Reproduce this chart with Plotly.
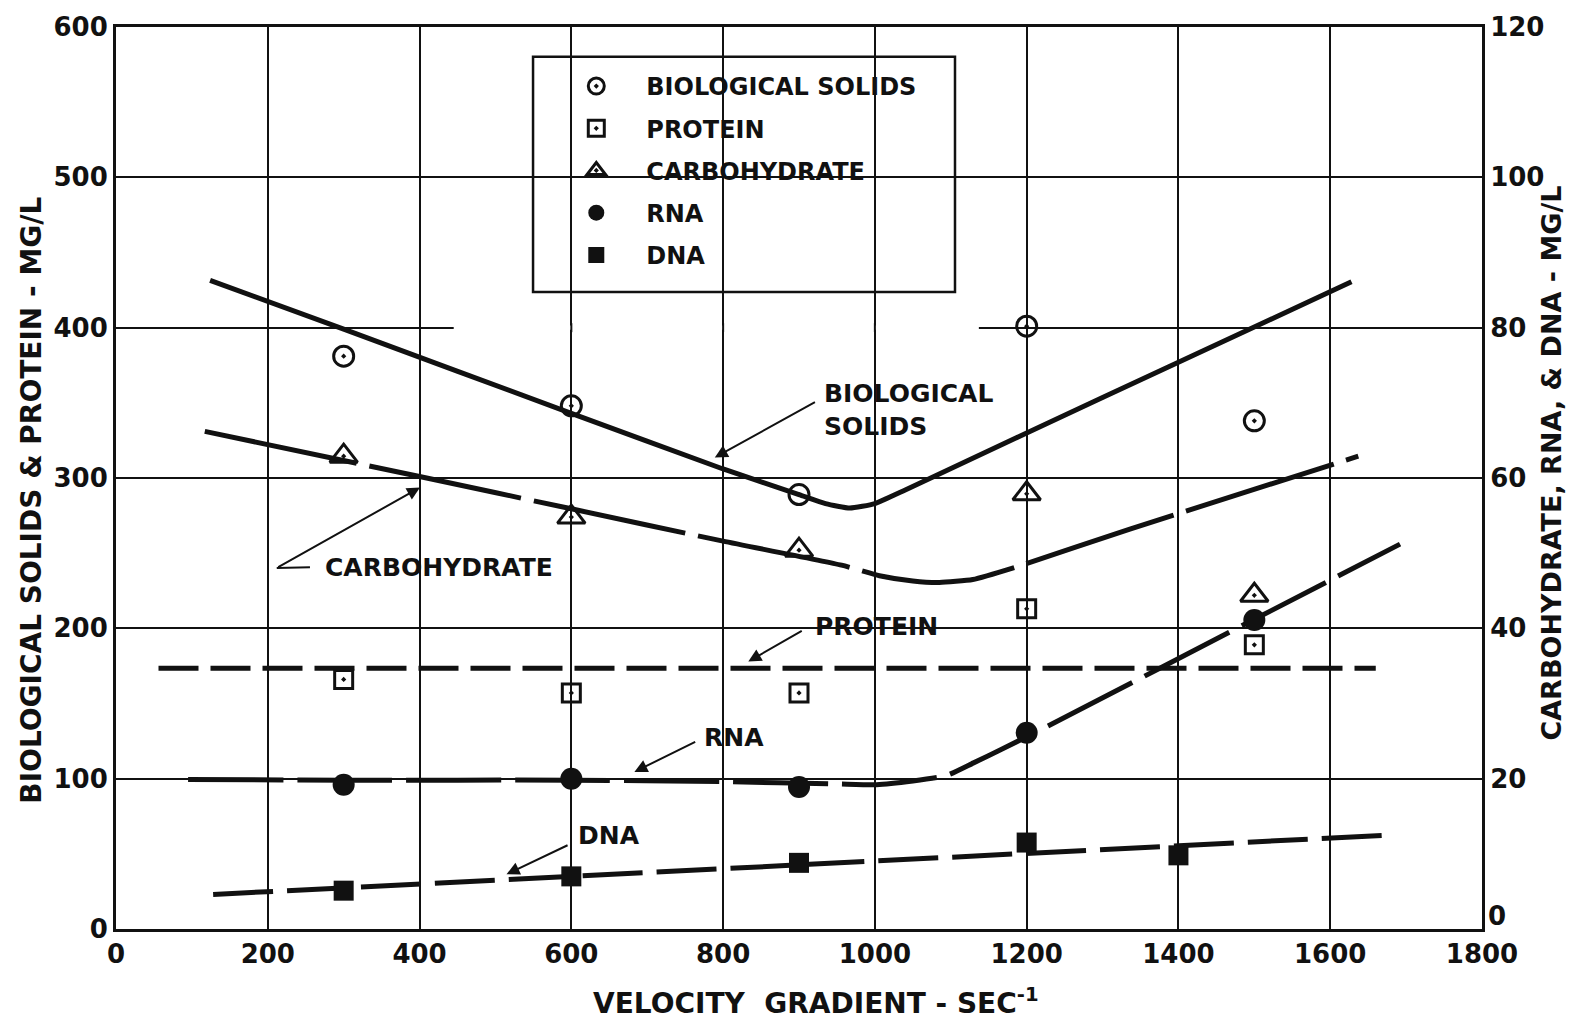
import plotly.graph_objects as go

# ---- measured points -------------------------------------------------------
velocity = [300, 600, 900, 1200, 1500]
bio_solids = [381, 348, 289, 401, 338]          # mg/L, left axis
protein = [166, 157, 157, 213, 189]             # mg/L, left axis
carbohydrate = [62.9, 54.8, 50.4, 57.9, 44.4]   # mg/L, right axis
rna = [19.2, 20.0, 18.9, 26.1, 41.1]            # mg/L, right axis
dna_velocity = [300, 600, 900, 1200, 1400]
dna = [5.1, 7.0, 8.8, 11.5, 9.8]                # mg/L, right axis

# ---- hand-fitted trend curves ----------------------------------------------
bs_fit_x = [124, 300, 600, 800, 900, 935, 967, 1000, 1040, 1200, 1400, 1628]
bs_fit_y = [431.5, 399, 343, 306, 289, 283, 280, 283, 292, 330, 377, 430.5]

carb_fit_x = [117, 400, 600, 800, 956, 1006, 1050, 1085, 1129, 1184, 1336, 1637]
carb_fit_y = [66.2, 60.2, 55.9, 51.6, 48.4, 47.0, 46.3, 46.1, 46.5, 48.1, 53.2, 62.9]

protein_fit_x = [56, 1660]
protein_fit_y = [173.5, 173.5]

rna_fit_x = [95, 300, 600, 800, 950, 1002, 1050, 1094, 1130, 1167, 1253, 1500, 1692]
rna_fit_y = [19.9, 19.8, 19.8, 19.6, 19.3, 19.2, 19.7, 20.4, 22.1, 23.9, 28.3, 41.2, 51.2]

dna_fit_x = [128, 1679]
dna_fit_y = [4.6, 12.5]

# ---- axis ticks ------------------------------------------------------------
x_ticks = [0, 200, 400, 600, 800, 1000, 1200, 1400, 1600, 1800]
left_ticks = [0, 100, 200, 300, 400, 500, 600]
right_ticks = [20, 40, 60, 80, 100, 120]   # the right-hand 0 is set a little higher

FONT = "DejaVu Sans"
INK = "#111111"


def bold(size):
    return dict(family=FONT, size=size, color=INK, weight="bold")


fig = go.Figure()

# trend curves (no legend entries)
curve_style = dict(mode="lines", showlegend=False, hoverinfo="skip")
fig.add_trace(go.Scatter(x=bs_fit_x, y=bs_fit_y, yaxis="y",
                         line=dict(color=INK, width=5, shape="spline", smoothing=0.5),
                         **curve_style))
fig.add_trace(go.Scatter(x=carb_fit_x, y=carb_fit_y, yaxis="y2",
                         line=dict(color=INK, width=5, shape="spline", smoothing=0.5,
                                   dash="155px,13px"),
                         **curve_style))
fig.add_trace(go.Scatter(x=protein_fit_x, y=protein_fit_y, yaxis="y",
                         line=dict(color=INK, width=5, dash="40px,12px"),
                         **curve_style))
fig.add_trace(go.Scatter(x=rna_fit_x, y=rna_fit_y, yaxis="y2",
                         line=dict(color=INK, width=5, shape="spline", smoothing=0.5,
                                   dash="95px,14px"),
                         **curve_style))
fig.add_trace(go.Scatter(x=dna_fit_x, y=dna_fit_y, yaxis="y2",
                         line=dict(color=INK, width=5, dash="60px,14px"),
                         **curve_style))

# measured points
open_line = dict(color=INK, width=3)
fig.add_trace(go.Scatter(x=velocity, y=bio_solids, yaxis="y", mode="markers",
                         name="BIOLOGICAL SOLIDS", legendgroup="a",
                         marker=dict(symbol="circle-open-dot", size=20, color=INK, line=open_line)))
fig.add_trace(go.Scatter(x=velocity, y=protein, yaxis="y", mode="markers",
                         name="PROTEIN", legendgroup="b",
                         marker=dict(symbol="square-open-dot", size=18, color=INK, line=open_line)))
fig.add_trace(go.Scatter(x=velocity, y=carbohydrate, yaxis="y2", mode="markers",
                         name="CARBOHYDRATE", legendgroup="c",
                         marker=dict(symbol="triangle-up-open-dot", size=24, color=INK, line=open_line)))
fig.add_trace(go.Scatter(x=velocity, y=rna, yaxis="y2", mode="markers",
                         name="RNA", legendgroup="d",
                         marker=dict(symbol="circle", size=22, color=INK)))
fig.add_trace(go.Scatter(x=dna_velocity, y=dna, yaxis="y2", mode="markers",
                         name="DNA", legendgroup="e",
                         marker=dict(symbol="square", size=20, color=INK)))

# legend frame and a break in the 400 grid line
shapes = [
    dict(type="rect", xref="paper", yref="paper", x0=0.3053, x1=0.6142, y0=0.7062, y1=0.9669,
         line=dict(color=INK, width=2.5), fillcolor="white", layer="between"),
    dict(type="rect", xref="x", yref="y", x0=445, x1=1137, y0=398.6, y1=401.4,
         line=dict(width=0), fillcolor="white", layer="between"),
    # tail of the CARBOHYDRATE pointer
    dict(type="line", xref="x", yref="y", x0=211.8, y0=240.1, x1=255.6, y1=240.6,
         line=dict(color=INK, width=2)),
]
# keep the vertical grid lines continuous through the break
for gx in (600, 800, 1000):
    shapes.append(dict(type="line", xref="x", yref="y", x0=gx, x1=gx, y0=397, y1=403,
                       line=dict(color=INK, width=2), layer="between"))

annotations = []


def pointer(tail, head):
    annotations.append(dict(x=head[0], y=head[1], ax=tail[0], ay=tail[1],
                            xref="x", yref="y", axref="x", ayref="y", text="",
                            showarrow=True, arrowhead=2, arrowsize=1.3, arrowwidth=2,
                            arrowcolor=INK, standoff=0, startstandoff=0))


def label(text, x, y):
    annotations.append(dict(x=x, y=y, xref="x", yref="y", text=text, showarrow=False,
                            xanchor="left", yanchor="middle", align="left", font=bold(25)))


label("BIOLOGICAL<br>SOLIDS", 930, 345.5)
pointer((923, 351), (789, 313.6))
label("CARBOHYDRATE", 273, 240.8)
pointer((211.8, 240.1), (400.6, 293.7))
label("PROTEIN", 918, 201)
pointer((905.6, 198.9), (833.2, 177.9))
label("RNA", 772, 127.7)
pointer((765.2, 125.0), (683.1, 104.5))
label("DNA", 606, 62.2)
pointer((597, 56.2), (514.6, 36.4))

# axis titles and the raised right-hand zero
annotations += [
    dict(text="BIOLOGICAL SOLIDS & PROTEIN - MG/L", xref="paper", yref="paper",
         x=-0.0615, y=0.476, textangle=-90, showarrow=False, font=bold(28),
         xanchor="center", yanchor="middle"),
    dict(text="CARBOHYDRATE, RNA, & DNA - MG/L", xref="paper", yref="paper",
         x=1.0512, y=0.517, textangle=-90, showarrow=False, font=bold(27),
         xanchor="center", yanchor="middle"),
    dict(text="VELOCITY  GRADIENT - SEC<sup>-1</sup>", xref="paper", yref="paper",
         x=0.5124, y=-0.0805, showarrow=False, font=bold(28),
         xanchor="center", yanchor="middle"),
    dict(text="0", xref="paper", yref="paper", x=1.003, y=0.014, showarrow=False,
         font=bold(26), xanchor="left", yanchor="middle"),
]

axis_common = dict(showline=True, linecolor=INK, linewidth=3, ticks="",
                   tickfont=bold(26), zeroline=False)

fig.update_layout(
    width=1579, height=1021,
    margin=dict(l=116, r=97, t=22, b=92),
    paper_bgcolor="white", plot_bgcolor="white",
    xaxis=dict(range=[0, 1800], tickvals=x_ticks, mirror=True, showgrid=True,
               gridcolor=INK, gridwidth=2, **axis_common),
    yaxis=dict(range=[0, 600], tickvals=left_ticks, mirror=True, showgrid=True,
               gridcolor=INK, gridwidth=2, **axis_common),
    yaxis2=dict(range=[0, 120], tickvals=right_ticks, overlaying="y", side="right",
                showgrid=False, **axis_common),
    legend=dict(x=0.315, y=0.959, xanchor="left", yanchor="top", font=bold(24),
                bgcolor="rgba(0,0,0,0)", borderwidth=0, tracegroupgap=8, itemwidth=90),
    shapes=shapes,
    annotations=annotations,
)

fig.write_html("out.html")
